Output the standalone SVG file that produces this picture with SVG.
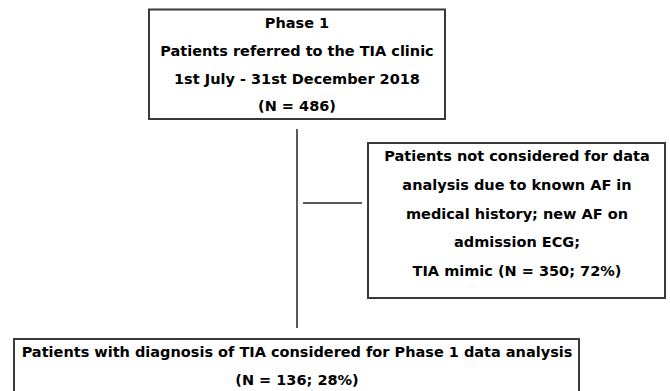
<svg xmlns="http://www.w3.org/2000/svg" width="670" height="391" viewBox="0 0 670 391">
<style>
.box{fill:#fff;stroke:#3a3a3a;stroke-width:2}
.ln{stroke:#222;stroke-width:1.5;fill:none}
text{font-family:"DejaVu Sans","Open Sans","Liberation Sans",sans-serif;font-weight:700;font-size:14.5px;fill:#000;text-anchor:middle}
</style>
<rect width="670" height="391" fill="#fff"/>
<g id="connectors">
<line class="ln" x1="297" y1="129" x2="297" y2="328"/>
<line class="ln" x1="303" y1="203" x2="362" y2="203"/>
</g>
<g id="phase1">
<rect class="box" x="149" y="9.5" width="296" height="109.5"/>
<text x="297" y="27.5">Phase 1</text>
<text x="297" y="55.5">Patients referred to the TIA clinic</text>
<text x="297" y="83.5">1st July - 31st December 2018</text>
<text x="297" y="111">(N = 486)</text>
</g>
<g id="excluded">
<rect class="box" x="368" y="143" width="297" height="155"/>
<text x="517" y="161">Patients not considered for data</text>
<text x="517" y="190">analysis due to known AF in</text>
<text x="517" y="218.5">medical history; new AF on</text>
<text x="517" y="247">admission ECG;</text>
<text x="517" y="276">TIA mimic (N = 350; 72%)</text>
</g>
<g id="included">
<rect class="box" x="14" y="339" width="565" height="70"/>
<text x="297" y="357">Patients with diagnosis of TIA considered for Phase 1 data analysis</text>
<text x="297" y="385">(N = 136; 28%)</text>
</g>
</svg>
